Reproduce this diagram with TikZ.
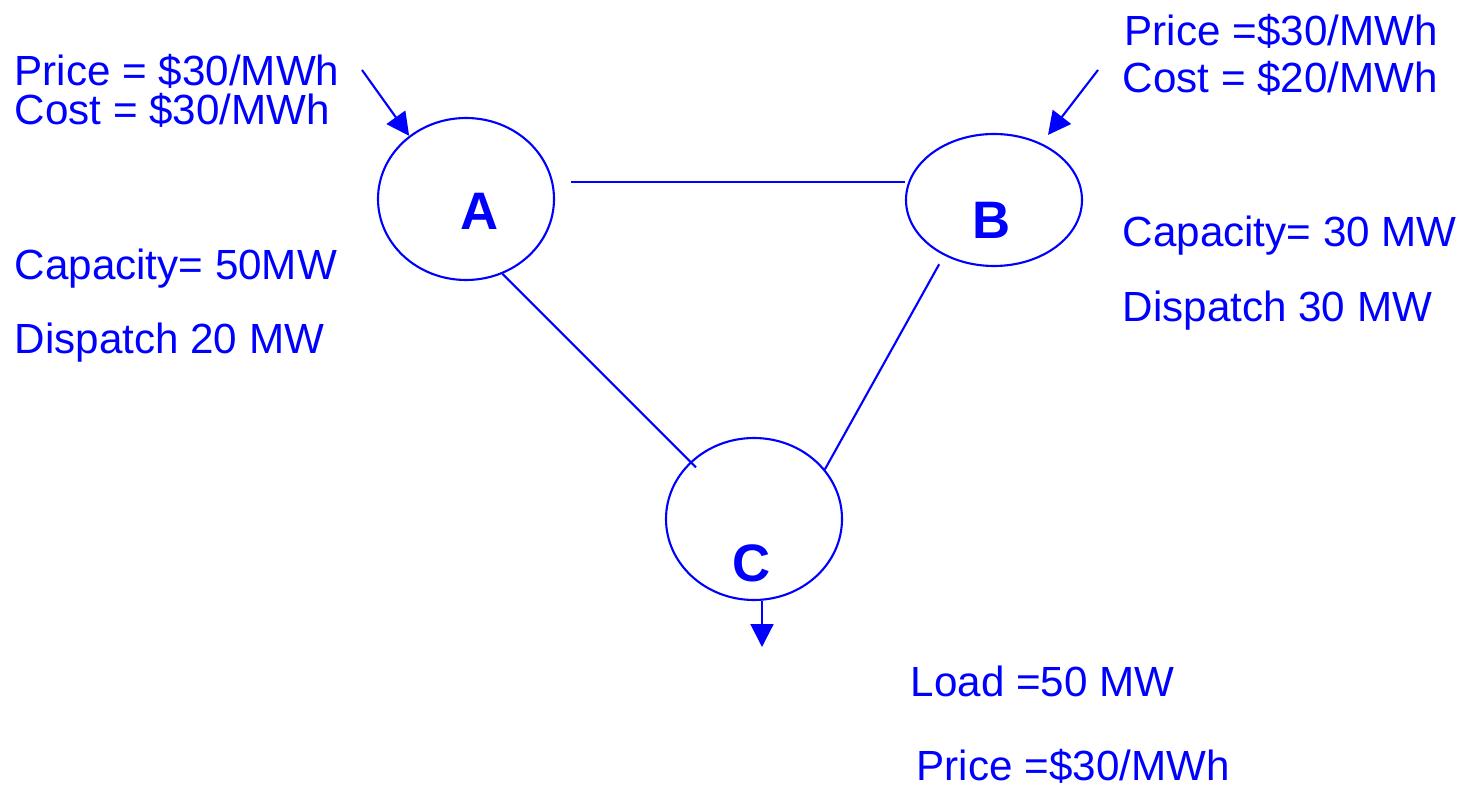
\documentclass[tikz,border=0pt]{standalone}
\usepackage{fontspec}
\setmainfont{Liberation Sans}
\usetikzlibrary{shapes.geometric,arrows.meta}
\begin{document}
\begin{tikzpicture}[
  bus/.style={draw=blue, line width=0.6pt, ellipse, inner sep=0pt},
  busname/.style={blue, font=\fontsize{15}{18}\selectfont\bfseries},
  info/.style={blue, anchor=base west, inner sep=0pt, font=\fontsize{12}{14}\selectfont},
  link/.style={blue, line width=0.6pt},
  flow/.style={blue, line width=0.6pt, -{Triangle[length=6.5pt,width=6.5pt]}}]
  \useasboundingbox (0,0) rectangle (14.58,7.85);
  % the three buses
  \node [bus, minimum width=1.76cm, minimum height=1.62cm] (A) at (4.66,5.86) {};
  \node [bus, minimum width=1.76cm, minimum height=1.32cm] (B) at (9.94,5.85) {};
  \node [bus, minimum width=1.76cm, minimum height=1.62cm] (C) at (7.54,2.66) {};
  \node [busname] (nameA) at (4.80,5.74) {A};
  \node [busname] (nameB) at (9.92,5.65) {B};
  \node [busname] (nameC) at (7.52,2.22) {C};
  % lines between buses
  \draw [link] ([shift={(0.16,0.17)}]A.east) coordinate (ab) -- (B.west |- ab);
  \draw [link, shorten >=-0.08cm] (A.296) -- (C.138);
  \draw [link, shorten <=0.1cm] (B.228) -- (C.35);
  % bus A
  \node [info] (priceA) at (0.14,6.99) {Price = \$30/MWh};
  \node [info] (costA) at (0.14,6.60) {Cost = \$30/MWh};
  \node [info] (capA) at (0.14,5.05) {Capacity= 50MW};
  \node [info] (dispA) at (0.14,4.31) {Dispatch 20 MW};
  \coordinate (inA) at (3.62,7.15);
  \draw [flow] (inA) -- (A.132);
  % bus B
  \node [info] (priceB) at (11.24,7.39) {Price =\$30/MWh};
  \node [info] (costB) at (11.22,6.92) {Cost = \$20/MWh};
  \node [info] (capB) at (11.22,5.38) {Capacity= 30 MW};
  \node [info] (dispB) at (11.22,4.63) {Dispatch 30 MW};
  \coordinate (inB) at (10.98,7.15);
  \draw [flow, shorten >=3pt] (inB) -- (B.50);
  % bus C, the load
  \coordinate (outC) at (7.62,1.38);
  \draw [flow] ([xshift=0.08cm]C.south) -- (outC);
  \node [info] (loadC) at (9.10,0.89) {Load =50 MW};
  \node [info] (priceC) at (9.16,0.05) {Price =\$30/MWh};
\end{tikzpicture}
\end{document}
